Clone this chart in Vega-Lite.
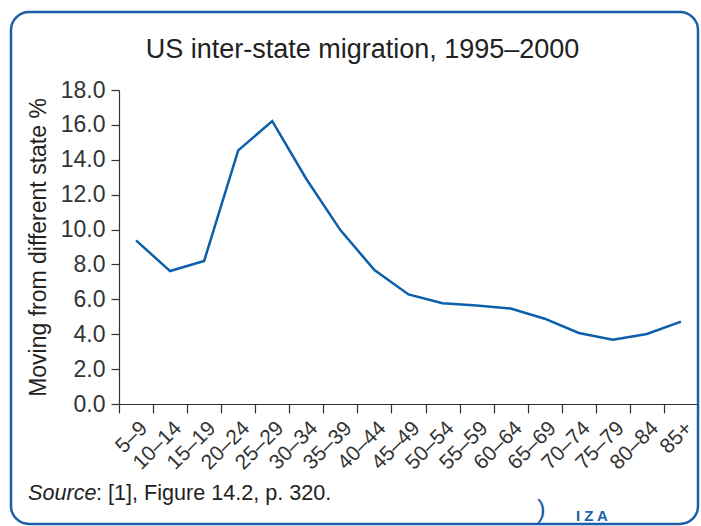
{
  "$schema": "https://vega.github.io/schema/vega-lite/v6.json",
  "width": 579,
  "height": 314,
  "autosize": {"type": "none"},
  "padding": {"left": 119, "top": 90, "right": 3, "bottom": 122},
  "background": "white",
  "title": {
    "text": "US inter-state migration, 1995–2000",
    "font": "Liberation Sans",
    "fontSize": 27,
    "fontWeight": "normal",
    "color": "#222222",
    "anchor": "middle",
    "frame": "bounds",
    "baseline": "alphabetic",
    "offset": -74,
    "dx": 8
  },
  "config": {
    "view": {"stroke": null},
    "font": "Liberation Sans",
    "axis": {
      "labelFont": "Liberation Sans",
      "titleFont": "Liberation Sans",
      "labelColor": "#333333",
      "titleColor": "#222222",
      "domainColor": "#333333",
      "tickColor": "#333333",
      "domainWidth": 1.2,
      "tickWidth": 1.2,
      "grid": false,
      "labelOverlap": false
    }
  },
  "layer": [
    {
      "data": {"values": [{"note": "decoration"}]},
      "layer": [
        {
          "mark": {"type": "rect", "fill": "white", "fillOpacity": 0, "stroke": "#1a5fa8", "strokeWidth": 2.5, "cornerRadius": 18},
          "encoding": {
            "x": {"datum": -0.1865, "type": "quantitative", "scale": {"domain": [0, 1]}, "axis": null},
            "x2": {"datum": 1.0},
            "y": {"datum": 1.2484, "type": "quantitative", "scale": {"domain": [0, 1]}, "axis": null},
            "y2": {"datum": -0.3822}
          }
        },
        {
          "mark": {"type": "text", "text": "Source", "font": "Liberation Sans", "fontStyle": "italic", "fontSize": 21.6, "align": "left", "baseline": "alphabetic", "color": "#222222"},
          "encoding": {
            "x": {"datum": -0.157, "type": "quantitative"},
            "y": {"datum": -0.3057, "type": "quantitative"}
          }
        },
        {
          "mark": {"type": "text", "text": ": [1], Figure 14.2, p. 320.", "font": "Liberation Sans", "fontSize": 21.6, "align": "left", "baseline": "alphabetic", "dx": 68, "color": "#222222"},
          "encoding": {
            "x": {"datum": -0.157, "type": "quantitative"},
            "y": {"datum": -0.3057, "type": "quantitative"}
          }
        },
        {
          "mark": {"type": "text", "text": ")", "font": "Liberation Sans", "fontSize": 26, "align": "left", "baseline": "alphabetic", "color": "#1a5fa8"},
          "encoding": {
            "x": {"datum": 0.722, "type": "quantitative"},
            "y": {"datum": -0.363, "type": "quantitative"}
          }
        },
        {
          "mark": {"type": "text", "text": "I Z A", "font": "Liberation Sans", "fontWeight": "bold", "fontSize": 15, "align": "left", "baseline": "alphabetic", "color": "#1a5fa8"},
          "encoding": {
            "x": {"datum": 0.7893, "type": "quantitative"},
            "y": {"datum": -0.3726, "type": "quantitative"}
          }
        }
      ]
    },
    {
      "data": {
        "values": [
          {"age": "5–9", "pct": 9.38},
          {"age": "10–14", "pct": 7.62},
          {"age": "15–19", "pct": 8.2},
          {"age": "20–24", "pct": 14.54},
          {"age": "25–29", "pct": 16.22},
          {"age": "30–34", "pct": 12.9},
          {"age": "35–39", "pct": 9.97},
          {"age": "40–44", "pct": 7.68},
          {"age": "45–49", "pct": 6.28},
          {"age": "50–54", "pct": 5.78},
          {"age": "55–59", "pct": 5.64},
          {"age": "60–64", "pct": 5.47},
          {"age": "65–69", "pct": 4.89},
          {"age": "70–74", "pct": 4.07},
          {"age": "75–79", "pct": 3.69},
          {"age": "80–84", "pct": 4.01},
          {"age": "85+", "pct": 4.72}
        ]
      },
      "mark": {"type": "line", "color": "#0b5fab", "strokeWidth": 2.5},
      "encoding": {
        "x": {
          "field": "age",
          "type": "nominal",
          "sort": null,
          "scale": {"type": "band", "paddingInner": 0, "paddingOuter": 0},
          "axis": {
            "orient": "bottom",
            "title": null,
            "labelAngle": -45,
            "labelFontSize": 21,
            "tickBand": "extent",
            "tickExtra": false,
            "tickSize": 9,
            "labelPadding": 4,
            "labelDx": 8
          }
        },
        "y": {
          "field": "pct",
          "type": "quantitative",
          "scale": {"domain": [0, 18], "nice": false, "zero": true},
          "axis": {
            "orient": "left",
            "title": "Moving from different state %",
            "titleFontSize": 23,
            "titleFontWeight": "normal",
            "titlePadding": 10,
            "labelFontSize": 23,
            "format": ".1f",
            "values": [0, 2, 4, 6, 8, 10, 12, 14, 16, 18],
            "tickSize": 8,
            "labelPadding": 6
          }
        }
      }
    }
  ],
  "resolve": {"scale": {"x": "independent", "y": "independent"}}
}
